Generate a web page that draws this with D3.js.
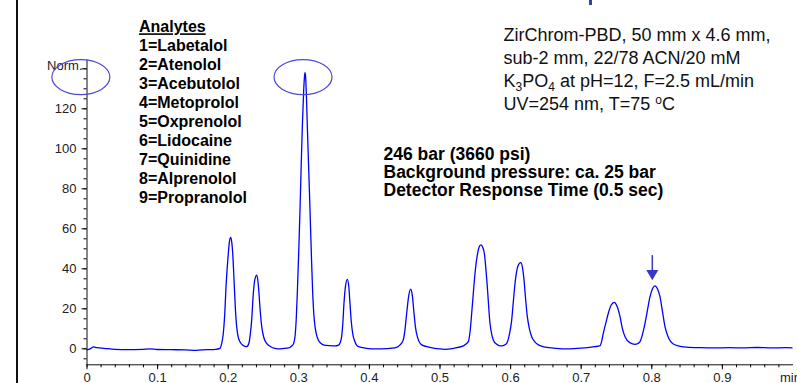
<!DOCTYPE html>
<html>
<head>
<meta charset="utf-8">
<script src="https://cdn.jsdelivr.net/npm/d3@7"></script>
<style>
  body { margin: 0; background: #fff; }
  svg text { font-family: "Liberation Sans", Arial, sans-serif; }
</style>
</head>
<body>
<div id="chrom"></div>
<script>
// retention time (min) and detector signal
const traceTime = [
  0.000, 0.005, 0.010, 0.015, 0.025, 0.040, 0.060, 0.080, 0.090, 0.100, 0.120, 0.140, 0.155, 0.170, 0.183,
  0.189, 0.1915, 0.1938, 0.1958, 0.1976, 0.2009, 0.2025, 0.2042, 0.2058, 0.2071, 0.2094, 0.2110, 0.2127, 0.2150, 0.2174, 0.2215, 0.2269,
  0.2300, 0.2320, 0.2340, 0.2363, 0.2385, 0.2411, 0.2430, 0.2443, 0.2462, 0.2482, 0.2515, 0.2552, 0.2610, 0.2670, 0.2750, 0.2820, 0.2880,
  0.2900, 0.2929, 0.2953, 0.2970, 0.2986, 0.3005, 0.3024, 0.3040, 0.3057, 0.3075, 0.3088, 0.3095, 0.3103, 0.3115, 0.3128, 0.3147, 0.3166,
  0.3185, 0.3204, 0.3220, 0.3237, 0.3260, 0.3283, 0.3320, 0.3354, 0.3450, 0.3520,
  0.3570, 0.3595, 0.3614, 0.3630, 0.3647, 0.3670, 0.3694, 0.3715, 0.3732, 0.3750, 0.3770, 0.3800, 0.3850, 0.3967, 0.4100, 0.4250, 0.4300,
  0.4393, 0.4440, 0.4487, 0.4510, 0.4535, 0.4565, 0.4592, 0.4615, 0.4639, 0.4660, 0.4686, 0.4748, 0.4865, 0.5000, 0.5078, 0.5200,
  0.5337, 0.5408, 0.5435, 0.5456, 0.5480, 0.5503, 0.5540, 0.5565, 0.5588, 0.5612, 0.5635, 0.5677, 0.5715, 0.5740, 0.5762, 0.5810, 0.5857,
  0.5910, 0.5952, 0.5990, 0.6023, 0.6045, 0.6070, 0.6110, 0.6150, 0.6175, 0.6197, 0.6220, 0.6244, 0.6275, 0.6306, 0.6350, 0.6400,
  0.6500, 0.6650, 0.6800, 0.6950, 0.7100, 0.7200, 0.7274,
  0.7300, 0.7320, 0.7355, 0.7391, 0.7430, 0.7476, 0.7515, 0.7557, 0.7590, 0.7628, 0.7700, 0.7769,
  0.7810, 0.7840, 0.7875, 0.7911, 0.7945, 0.7982, 0.8020, 0.8052, 0.8090, 0.8123, 0.8160, 0.8194, 0.8235, 0.8275, 0.8320, 0.8382,
  0.8500, 0.8700, 0.8900, 0.9100, 0.9300, 0.9500, 0.9700, 0.9900, 1.0000
];
const traceSignal = [
  -0.8, -0.3, 0.7, 0.3, 0.0, -0.5, -0.7, -0.5, -0.3, -0.6, -0.7, -0.8, -1.0, -0.7, -0.5,
  0.0, 2.5, 7.5, 17, 30.8, 47.5, 53.5, 55.5, 53, 47.5, 30.8, 19, 10.8, 5.5, 3.3, 1.5, 0.8,
  2.5, 7, 14.2, 27.5, 34.5, 36.6, 33, 27.5, 18, 10.8, 5, 2.5, 0.8, 0.0, -0.3, 0.0, 0.4,
  1.0, 2.0, 5.8, 14, 27.5, 47, 69, 90, 110.8, 128, 136, 137.8, 136, 126, 110.8, 90, 69,
  47, 27.5, 17, 10.8, 6.5, 4.2, 2.5, 1.7, 1.3, 1.2,
  1.6, 3, 5.8, 12, 22.5, 31.5, 34.5, 31, 22.5, 13.5, 7.5, 3.5, 0.8, 0.0, -0.3, -0.2, 0.0,
  0.5, 1.7, 4.2, 9, 17.5, 26.5, 29.6, 26.5, 17.5, 10.5, 5.8, 1.7, 0.5, -0.3, -0.5, 0.0,
  1.2, 3.3, 9, 17.5, 28, 37.5, 47.5, 51, 51.7, 50.5, 47.5, 30.8, 12.5, 7, 4.2, 2.0, 1.2,
  1.5, 2.5, 7, 14.2, 23, 32.5, 41, 42.8, 40.5, 34.2, 24.5, 15.8, 9.5, 5.8, 3.2, 1.7,
  0.6, 0.0, -0.3, 0.0, 0.3, 0.8, 1.3,
  4, 7.5, 12.5, 17.5, 21.5, 23, 21, 15.8, 10, 5.8, 2.7, 2.0,
  2.4, 3.3, 7, 12.5, 19, 25.8, 30, 31.2, 29.5, 25.8, 18, 10.8, 6, 3.3, 2.0, 1.2,
  0.6, 0.3, 0.2, 0.3, 0.2, 0.4, 0.2, 0.3, 0.2
];

const xTicks = [0, 0.1, 0.2, 0.3, 0.4, 0.5, 0.6, 0.7, 0.8, 0.9];
const yTicks = [0, 20, 40, 60, 80, 100, 120, 140];
const yTickLabels = ["0", "20", "40", "60", "80", "100", "120", "Norm."];

const analytes = ["Labetalol", "Atenolol", "Acebutolol", "Metoprolol", "Oxprenolol",
                  "Lidocaine", "Quinidine", "Alprenolol", "Propranolol"];
const pressureNotes = ["246 bar (3660 psi)", "Background pressure: ca. 25 bar",
                       "Detector Response Time (0.5 sec)"];
const markedPeakTime = 0.8;

const W = 797, H = 383;

const svg = d3.select("#chrom")
  .append("svg")
    .attr("width", W)
    .attr("height", H);

// scales
const x = d3.scaleLinear().domain([0, 1]).range([86.5, 792.5]);
const y = d3.scaleLinear().domain([-8, 144.5]).range([364.3, 59.3]);

// frame line on the left, and a bit of the cut-off title
svg.append("line")
  .attr("x1", 17).attr("x2", 17).attr("y1", 0).attr("y2", H)
  .attr("stroke", "#111").attr("stroke-width", 2);
svg.append("rect")
  .attr("x", 589).attr("y", 0).attr("width", 3).attr("height", 5)
  .attr("fill", "#34439c");

// x axis: major + minor ticks
const xAxisG = svg.append("g")
  .attr("transform", `translate(0,${y(-8)})`)
  .call(d3.axisBottom(x).tickValues(xTicks).tickSize(5).tickSizeOuter(0).tickPadding(3).tickFormat(d3.format("")));
svg.append("g")
  .attr("transform", `translate(0,${y(-8)})`)
  .call(d3.axisBottom(x).tickValues(d3.range(0, 50).map(i => i * 0.02)).tickSize(3).tickSizeOuter(0).tickFormat(""))
  .select(".domain").remove();

// y axis
const yAxisG = svg.append("g")
  .attr("transform", `translate(${x(0)},0)`)
  .call(d3.axisLeft(y).tickValues(yTicks).tickSize(5).tickSizeOuter(0).tickPadding(5)
        .tickFormat((d, i) => yTickLabels[i]));
svg.append("g")
  .attr("transform", `translate(${x(0)},0)`)
  .call(d3.axisLeft(y).tickValues(d3.range(-1, 29).map(i => i * 5)).tickSize(3).tickSizeOuter(0).tickFormat(""))
  .select(".domain").remove();

[xAxisG, yAxisG].forEach(g => {
  g.selectAll("text").style("font-size", "13px").attr("fill", "#222")
    .style("font-family", "'Liberation Sans', Arial, sans-serif");
  g.selectAll("line").attr("stroke", "#111");
  g.select(".domain").attr("stroke", "#111");
});
yAxisG.selectAll(".tick text").filter(d => d === 140)
  .attr("x", -4).attr("dy", "0.1em");

svg.append("text")
  .attr("x", 780).attr("y", 381.5)
  .style("font-size", "13px").attr("fill", "#222")
  .text("min");

// trace
const pts = traceTime.map((t, i) => [t, traceSignal[i]]);
const line = d3.line()
  .x(d => x(d[0]))
  .y(d => y(d[1]))
  .curve(d3.curveMonotoneX);

svg.append("path")
  .datum(pts)
  .attr("fill", "none")
  .attr("stroke", "#0000ff")
  .attr("stroke-width", 1.3)
  .attr("d", line);

// circled spots
svg.append("ellipse")
  .attr("cx", x(-0.008)).attr("cy", y(135.6)).attr("rx", 29).attr("ry", 17.5)
  .attr("fill", "none").attr("stroke", "#4a4ad6").attr("stroke-width", 1.2);
svg.append("ellipse")
  .attr("cx", x(0.3067)).attr("cy", y(135.6)).attr("rx", 29).attr("ry", 17.5)
  .attr("fill", "none").attr("stroke", "#4a4ad6").attr("stroke-width", 1.2);

// arrow over peak 9
const ax = x(markedPeakTime) + 1;
svg.append("line")
  .attr("x1", ax).attr("x2", ax).attr("y1", y(46.6)).attr("y2", y(38))
  .attr("stroke", "#3838c8").attr("stroke-width", 1.5);
svg.append("path")
  .attr("d", `M${ax - 6},${y(39.2)} L${ax + 6},${y(39.2)} L${ax},${y(34)} Z`)
  .attr("fill", "#3838c8");

// analytes list
svg.append("text")
  .attr("x", 139).attr("y", 32.3)
  .style("font-size", "16px").style("font-weight", "bold")
  .style("text-decoration", "underline")
  .text("Analytes");
svg.selectAll(".analyte")
  .data(analytes)
  .enter().append("text")
  .attr("class", "analyte")
  .attr("x", 139)
  .attr("y", (d, i) => 51 + i * 19)
  .style("font-size", "16px").style("font-weight", "bold")
  .text((d, i) => (i + 1) + "=" + d);

// pressure notes
svg.selectAll(".note")
  .data(pressureNotes)
  .enter().append("text")
  .attr("class", "note")
  .attr("x", 383.5)
  .attr("y", (d, i) => 159.5 + i * 18.4)
  .style("font-size", "17.5px").style("font-weight", "bold")
  .text(d => d);

// column conditions
const cond = svg.append("g").style("font-size", "18px").attr("fill", "#111");
cond.append("text").attr("x", 503.5).attr("y", 40.7).text("ZirChrom-PBD, 50 mm x 4.6 mm,");
cond.append("text").attr("x", 503.5).attr("y", 63.6).text("sub-2 mm, 22/78 ACN/20 mM");
const l3 = cond.append("text").attr("x", 503.5).attr("y", 86.5);
l3.append("tspan").text("K");
l3.append("tspan").attr("dy", 4).style("font-size", "12px").text("3");
l3.append("tspan").attr("dy", -4).text("PO");
l3.append("tspan").attr("dy", 4).style("font-size", "12px").text("4");
l3.append("tspan").attr("dy", -4).text(" at pH=12, F=2.5 mL/min");
const l4 = cond.append("text").attr("x", 503.5).attr("y", 109.5);
l4.append("tspan").text("UV=254 nm, T=75 ");
l4.append("tspan").attr("dy", -6).style("font-size", "12px").text("o");
l4.append("tspan").attr("dy", 6).text("C");
</script>
</body>
</html>
